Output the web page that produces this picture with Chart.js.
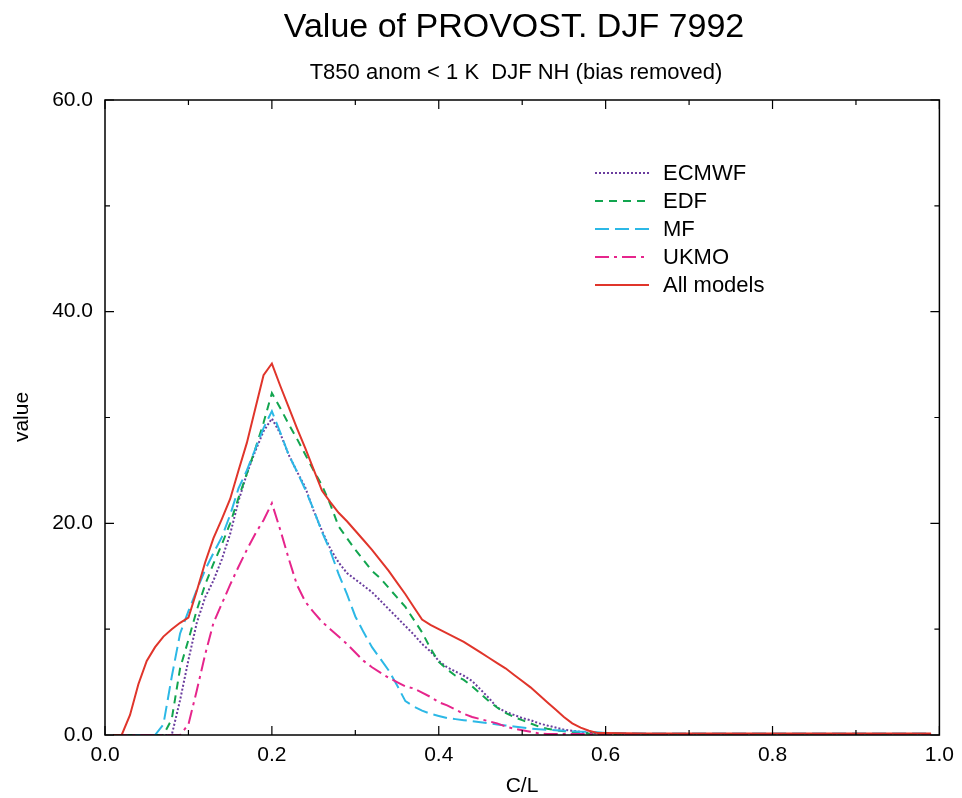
<!DOCTYPE html>
<html>
<head>
<meta charset="utf-8">
<script src="https://cdn.jsdelivr.net/npm/chart.js@4.4.1/dist/chart.umd.min.js"></script>
<style>
  body { margin: 0; background: #fff; }
  #wrap { width: 962px; height: 798px; position: relative; }
</style>
</head>
<body>
<div id="wrap"><canvas id="myChart"></canvas></div>
<script>
// C/L grid
const costLoss = [
  0.01, 0.02, 0.03, 0.04, 0.05, 0.06, 0.07, 0.08, 0.09, 0.10,
  0.11, 0.12, 0.13, 0.14, 0.15, 0.16, 0.17, 0.18, 0.19, 0.20,
  0.21, 0.22, 0.23, 0.24, 0.25, 0.26, 0.27, 0.28, 0.29, 0.30,
  0.31, 0.32, 0.33, 0.34, 0.35, 0.36, 0.37, 0.38, 0.39, 0.40,
  0.41, 0.42, 0.43, 0.44, 0.45, 0.46, 0.47, 0.48, 0.49, 0.50,
  0.51, 0.52, 0.53, 0.54, 0.55, 0.56, 0.57, 0.58, 0.59, 0.60,
  0.65, 0.70, 0.75, 0.80, 0.85, 0.90, 0.95, 0.99
];

const ecmwf = [
  0, 0, 0, 0, 0, 0, 0, 0, 3.3, 7.1,
  10.6, 13.0, 14.6, 16.6, 19.0, 22.1, 24.7, 26.8, 28.7, 29.9,
  28.5, 26.5, 24.9, 23.4, 21.2, 19.3, 17.6, 16.3, 15.3, 14.7,
  14.1, 13.5, 12.7, 11.9, 11.1, 10.3, 9.5, 8.6, 7.9, 7.0,
  6.4, 6.0, 5.6, 5.1, 4.3, 3.5, 2.6, 2.2, 1.9, 1.6,
  1.4, 1.1, 0.9, 0.7, 0.5, 0.4, 0.3, 0.2, 0.15, 0.1,
  0.1, 0.1, 0.1, 0.1, 0.1, 0.1, 0.1, 0.1
];

const edf = [
  0, 0, 0, 0, 0, 0, 0, 1.5, 6.3, 9.0,
  11.8, 14.2, 16.2, 18.0, 20.0, 22.4, 24.7, 27.0, 29.5, 32.3,
  30.9, 29.4, 28.0, 26.5, 25.0, 23.6, 21.8, 19.7, 18.6, 17.5,
  16.5, 15.5, 14.8, 13.9, 13.0, 12.1, 10.9, 9.7, 8.2, 6.9,
  6.2, 5.6, 5.2, 4.6, 3.9, 3.2, 2.6, 2.1, 1.7, 1.4,
  1.1, 0.8, 0.6, 0.45, 0.35, 0.25, 0.2, 0.15, 0.1, 0.1,
  0.1, 0.1, 0.1, 0.1, 0.1, 0.1, 0.1, 0.1
];

const mf = [
  0, 0, 0, 0, 0, 0, 1.0, 5.5, 9.6, 11.7,
  13.7, 15.6, 17.2, 18.7, 20.8, 23.3, 25.0, 27.0, 29.0, 30.6,
  28.6, 26.5, 24.9, 23.2, 21.3, 19.2, 17.4, 15.2, 13.3, 11.2,
  9.7, 8.3, 7.2, 6.1, 4.7, 3.2, 2.7, 2.3, 2.0, 1.8,
  1.6, 1.5, 1.4, 1.3, 1.2, 1.1, 1.0, 0.9, 0.8, 0.7,
  0.6, 0.55, 0.5, 0.45, 0.4, 0.35, 0.3, 0.3, 0.25, 0.2,
  0.15, 0.15, 0.15, 0.15, 0.15, 0.15, 0.15, 0.15
];

const ukmo = [
  0, 0, 0, 0, 0, 0, 0, 0, 0, 1.0,
  4.2, 7.6, 10.6, 12.4, 14.2, 15.9, 17.5, 19.0, 20.3, 21.9,
  19.4, 16.7, 14.2, 12.6, 11.6, 10.7, 10.0, 9.3, 8.6, 7.8,
  7.0, 6.4, 5.9, 5.4, 5.0, 4.6, 4.4, 4.0, 3.6, 3.1,
  2.8, 2.4, 2.0, 1.7, 1.5, 1.3, 1.1, 0.8, 0.6, 0.45,
  0.3, 0.15, 0.1, 0.1, 0.1, 0.1, 0.1, 0.1, 0.1, 0.1,
  0.1, 0.1, 0.1, 0.1, 0.1, 0.1, 0.1, 0.1
];

const allModels = [
  0, 0, 1.9, 4.8, 7.0, 8.3, 9.3, 10.0, 10.6, 11.1,
  13.6, 16.3, 18.6, 20.4, 22.3, 25.0, 27.6, 30.8, 34.0, 35.1,
  33.0, 31.0, 29.0, 27.1, 25.1, 23.1, 22.0, 21.0, 20.2, 19.3,
  18.4, 17.5, 16.5, 15.5, 14.4, 13.3, 12.1, 10.9, 10.4, 10.0,
  9.6, 9.2, 8.8, 8.3, 7.8, 7.3, 6.8, 6.3, 5.7, 5.1,
  4.5, 3.8, 3.1, 2.4, 1.7, 1.1, 0.7, 0.4, 0.2, 0.2,
  0.15, 0.15, 0.15, 0.15, 0.15, 0.15, 0.15, 0.15
];

const seriesNames = ['ECMWF', 'EDF', 'MF', 'UKMO', 'All models'];
const yTicks = [0, 20, 40, 60];
const xTicks = [0, 0.2, 0.4, 0.6, 0.8, 1.0];

const FONT = '"Liberation Sans", Arial, Helvetica, sans-serif';

function toPoints(ys) {
  let pts = [];
  for (let i = 0; i < costLoss.length; i++) {
    pts.push({x: costLoss[i], y: ys[i]});
  }
  return pts;
}

function makeSet(label, ys, color, dash, order) {
  return {
    label: label,
    data: toPoints(ys),
    borderColor: color,
    backgroundColor: color,
    borderWidth: 2,
    borderDash: dash,
    pointRadius: 0,
    tension: 0,
    fill: false,
    order: order
  };
}

// frame, inward ticks, titles and legend
const extras = {
  id: 'extras',
  afterDraw(chart) {
    const ctx = chart.ctx;
    const a = chart.chartArea;
    const sx = chart.scales.x, sy = chart.scales.y;
    ctx.save();
    ctx.strokeStyle = '#000';
    ctx.lineWidth = 1.5;
    ctx.setLineDash([]);
    ctx.strokeRect(a.left, a.top, a.right - a.left, a.bottom - a.top);

    ctx.lineWidth = 1.2;
    for (let i = 0; i <= 10; i++) {
      const px = sx.getPixelForValue(i / 10);
      const len = (i % 2 == 0) ? 9 : 5;
      ctx.beginPath();
      ctx.moveTo(px, a.bottom); ctx.lineTo(px, a.bottom - len);
      ctx.moveTo(px, a.top); ctx.lineTo(px, a.top + len);
      ctx.stroke();
    }
    for (let v = 0; v <= 60; v += 10) {
      const py = sy.getPixelForValue(v);
      const len = (v % 20 == 0) ? 9 : 5;
      ctx.beginPath();
      ctx.moveTo(a.left, py); ctx.lineTo(a.left + len, py);
      ctx.moveTo(a.right, py); ctx.lineTo(a.right - len, py);
      ctx.stroke();
    }

    ctx.fillStyle = '#000';
    ctx.textAlign = 'center';
    ctx.textBaseline = 'middle';
    ctx.font = '34px ' + FONT;
    ctx.fillText('Value of PROVOST. DJF 7992', 514, 28);
    ctx.font = '22px ' + FONT;
    ctx.fillText('T850 anom < 1 K  DJF NH (bias removed)', 516, 73);
    ctx.font = '21px ' + FONT;
    ctx.fillText('C/L', 522, 786);
    ctx.save();
    ctx.translate(22, 417);
    ctx.rotate(-Math.PI / 2);
    ctx.fillText('value', 0, 0);
    ctx.restore();

    // legend
    const rows = [173, 201, 229, 257, 285];
    ctx.textAlign = 'left';
    ctx.font = '22px ' + FONT;
    chart.data.datasets.forEach(function(ds, i) {
      ctx.strokeStyle = ds.borderColor;
      ctx.lineWidth = 2;
      ctx.setLineDash(ds.borderDash);
      ctx.beginPath();
      ctx.moveTo(595, rows[i]);
      ctx.lineTo(649, rows[i]);
      ctx.stroke();
      ctx.setLineDash([]);
      ctx.fillStyle = '#000';
      ctx.fillText(ds.label, 663, rows[i] + 1);
    });
    ctx.restore();
  }
};

const data = {
  datasets: [
    makeSet(seriesNames[0], ecmwf, '#6a3d9e', [2, 2], 4),
    makeSet(seriesNames[1], edf, '#12a54f', [8, 6], 3),
    makeSet(seriesNames[2], mf, '#2cb8e6', [14, 6], 2),
    makeSet(seriesNames[3], ukmo, '#e6258c', [14, 5, 3, 5], 1),
    makeSet(seriesNames[4], allModels, '#e0352b', [], 0)
  ]
};

const config = {
  type: 'line',
  data,
  plugins: [extras],
  options: {
    responsive: true,
    maintainAspectRatio: false,
    animation: false,
    layout: { padding: { left: 0, right: 22, top: 100, bottom: 0 } },
    plugins: {
      legend: { display: false },
      title: { display: false },
      tooltip: { enabled: false }
    },
    scales: {
      x: {
        type: 'linear',
        min: 0,
        max: 1,
        afterFit: function(s) { s.height = 63; },
        afterBuildTicks: function(s) { s.ticks = xTicks.map(v => ({value: v})); },
        grid: { display: false, drawTicks: false },
        border: { display: false },
        ticks: {
          padding: 8,
          color: '#000',
          font: { family: FONT, size: 21 },
          maxRotation: 0,
          callback: v => Number(v).toFixed(1)
        }
      },
      y: {
        type: 'linear',
        min: 0,
        max: 60,
        afterFit: function(s) { s.width = 105; },
        afterBuildTicks: function(s) { s.ticks = yTicks.map(v => ({value: v})); },
        grid: { display: false, drawTicks: false },
        border: { display: false },
        ticks: {
          padding: 12,
          color: '#000',
          font: { family: FONT, size: 21 },
          callback: v => Number(v).toFixed(1)
        }
      }
    }
  }
};

var myChart = new Chart(document.getElementById('myChart'), config);
</script>
</body>
</html>
